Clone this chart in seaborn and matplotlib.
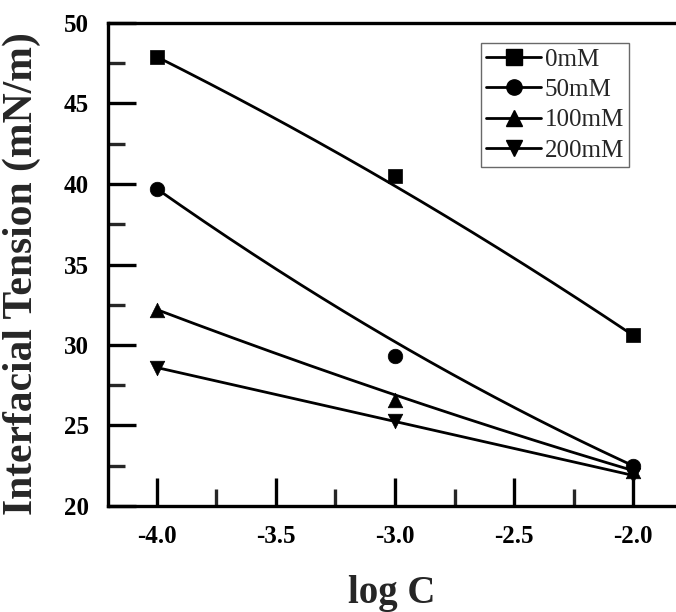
import numpy as np
import pandas as pd
import matplotlib
matplotlib.use("Agg")
import matplotlib.pyplot as plt
from matplotlib.lines import Line2D
from matplotlib.ticker import MultipleLocator
import seaborn as sns

log_c = [-4.0, -3.0, -2.0]
series_names = ["0mM", "50mM", "100mM", "200mM"]
tension_0mM = [47.9, 40.5, 30.6]
tension_50mM = [39.7, 29.3, 22.5]
tension_100mM = [32.2, 26.6, 22.2]
tension_200mM = [28.6, 25.25, 21.9]
markers = ["s", "o", "^", "v"]

series_values = [tension_0mM, tension_50mM, tension_100mM, tension_200mM]

sns.set_theme(style="ticks")
plt.rcParams["font.family"] = ["Liberation Serif", "DejaVu Serif"]

fig = plt.figure(figsize=(6.76, 6.12), dpi=100)
ax = fig.add_axes([108 / 676, 1 - 506 / 612, 1 - 108 / 676, (506 - 23) / 612])

# points
pts = pd.DataFrame([
    {"logC": x, "tension": y, "series": name}
    for name, vals in zip(series_names, series_values)
    for x, y in zip(log_c, vals)
])

# smooth B-spline (quadratic Bezier with data points as control points)
t = np.linspace(0, 1, 200)
curves = []
for name, vals in zip(series_names, series_values):
    xs = (1 - t) ** 2 * log_c[0] + 2 * (1 - t) * t * log_c[1] + t ** 2 * log_c[2]
    ys = (1 - t) ** 2 * vals[0] + 2 * (1 - t) * t * vals[1] + t ** 2 * vals[2]
    curves.append(pd.DataFrame({"logC": xs, "tension": ys, "series": name}))
curves = pd.concat(curves)

for name, m in zip(series_names, markers):
    sns.lineplot(data=curves[curves.series == name], x="logC", y="tension",
                 color="black", lw=2.0, ax=ax, legend=False, sort=False)
    sns.scatterplot(data=pts[pts.series == name], x="logC", y="tension",
                    marker=m, color="black", s=110, edgecolor="black",
                    linewidth=0.5, ax=ax, legend=False, zorder=3)

ax.set_xlim(-4.205, -1.82)
ax.set_ylim(20, 50)
ax.xaxis.set_major_locator(MultipleLocator(0.5))
ax.xaxis.set_minor_locator(MultipleLocator(0.25))
ax.yaxis.set_major_locator(MultipleLocator(5))
ax.yaxis.set_minor_locator(MultipleLocator(2.5))
ax.set_xticks([-4.0, -3.5, -3.0, -2.5, -2.0])
ax.set_xticklabels(["-4.0", "-3.5", "-3.0", "-2.5", "-2.0"])

for s in ["left", "bottom", "top"]:
    ax.spines[s].set_linewidth(2.4)
    ax.spines[s].set_color("black")
ax.spines["right"].set_visible(False)

ax.tick_params(which="major", direction="in", length=20, width=2.4,
               labelsize=18, pad=14, colors="black", top=False, right=False)
ax.tick_params(which="minor", direction="in", length=12, width=2.4,
               top=False, right=False)
for lab in ax.get_xticklabels() + ax.get_yticklabels():
    lab.set_fontweight("bold")

ax.set_xlabel("log C", fontsize=28, fontweight="bold", labelpad=19)
ax.set_ylabel("Interfacial Tension (mN/m)", fontsize=30, fontweight="bold")
ax.yaxis.set_label_coords(-0.118, 0.482)

handles = [Line2D([0], [0], color="black", lw=2.0, marker=m, markersize=11)
           for m in markers]
leg = ax.legend(handles, series_names, loc="upper left",
                bbox_to_anchor=((481 - 108) / (676 - 108), (506 - 43) / (506 - 23)),
                fontsize=18, frameon=True, fancybox=False, handlelength=2.2,
                handletextpad=0.15, borderpad=0.2, labelspacing=0.32,
                borderaxespad=0)
leg.get_frame().set_edgecolor("#444444")
leg.get_frame().set_linewidth(1.0)

fig.savefig("out.png", dpi=100)
